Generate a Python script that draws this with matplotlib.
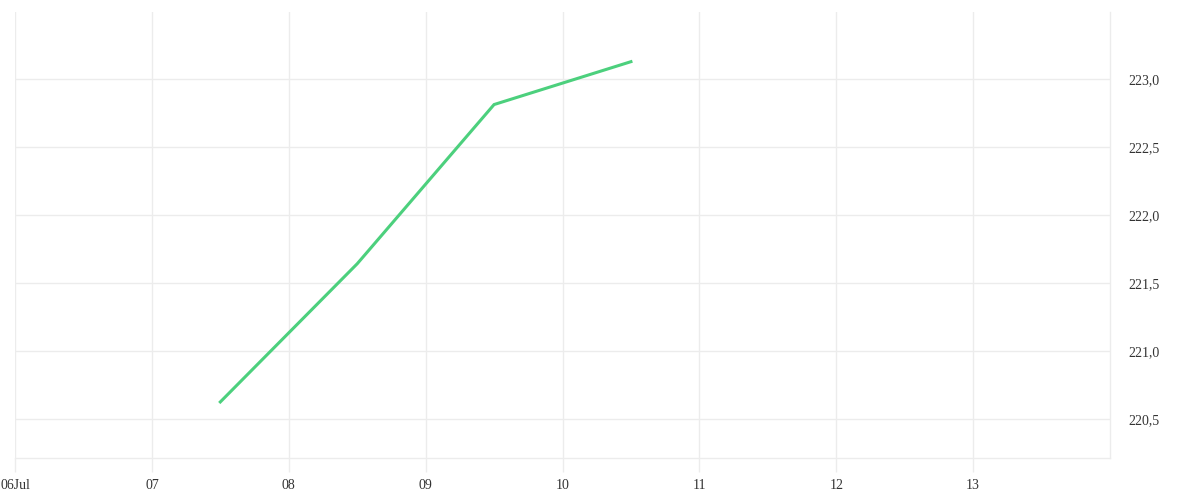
import matplotlib
matplotlib.use("Agg")
import matplotlib.pyplot as plt
import matplotlib.dates as mdates
import numpy as np
from datetime import datetime

# data
times = [datetime(2024, 7, 7, 12), datetime(2024, 7, 8, 12),
         datetime(2024, 7, 9, 12), datetime(2024, 7, 10, 12)]
values = [220.625, 221.64, 222.81, 223.125]

day_ticks = [datetime(2024, 7, d) for d in range(6, 14)]
day_labels = ["06Jul", "07", "08", "09", "10", "11", "12", "13"]
y_ticks = [220.5, 221.0, 221.5, 222.0, 222.5, 223.0]

grid_c = "#ececec"
text_c = "#333333"

plt.rcParams["font.family"] = ["Liberation Serif", "DejaVu Serif"]

fig = plt.figure(figsize=(12, 5), dpi=100)
ax = fig.add_axes([15 / 1200, 42 / 500, 1095 / 1200, 446 / 500])

ax.plot(times, values, color="#4cd07d", lw=2.2, solid_joinstyle="miter")

ax.set_xlim(datetime(2024, 7, 6), datetime(2024, 7, 14))
ax.set_ylim(220.213, 223.49)

ax.set_xticks(day_ticks)
ax.set_xticklabels(day_labels)
ax.set_yticks(y_ticks)
ax.set_yticklabels([f"{v:.1f}".replace(".", ",") for v in y_ticks])
ax.yaxis.tick_right()

ax.grid(True, color=grid_c, lw=1)
for s in ["top", "left"]:
    ax.spines[s].set_visible(False)
for s in ["bottom", "right"]:
    ax.spines[s].set_color(grid_c)
    ax.spines[s].set_linewidth(1)

ax.tick_params(axis="x", length=10, width=1, color=grid_c,
               labelcolor=text_c, labelsize=10, pad=5)
ax.tick_params(axis="y", length=0, labelcolor=text_c, labelsize=10, pad=13)

fig.savefig("out.png", dpi=100, facecolor="white")
